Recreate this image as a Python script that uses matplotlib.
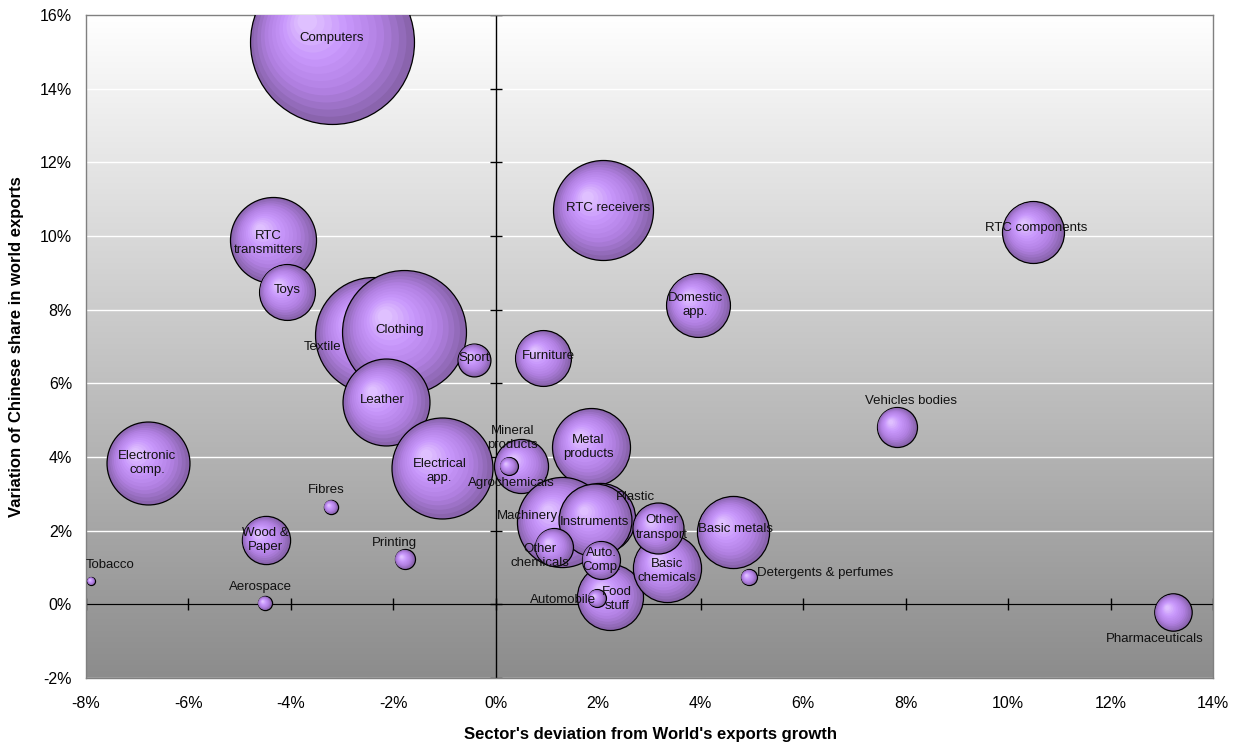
import numpy as np
import matplotlib
matplotlib.use("Agg")
import matplotlib.pyplot as plt
from matplotlib.colors import LinearSegmentedColormap
from matplotlib.transforms import offset_copy
from matplotlib.ticker import FuncFormatter

plt.rcParams['font.family'] = ['Liberation Sans', 'DejaVu Sans']

# sector data (x: deviation from world export growth, y: change in Chinese share, both in %)
sectors = ["Computers", "RTC\ntransmitters", "Toys", "RTC receivers", "Domestic\napp.",
           "RTC components", "Textile", "Clothing", "Sport", "Furniture", "Leather",
           "Electrical\napp.", "Electronic\ncomp.", "Wood &\nPaper", "Fibres", "Printing",
           "Tobacco", "Aerospace", "Mineral\nproducts", "Agrochemicals", "Metal\nproducts",
           "Machinery", "Plastic", "Instruments", "Other\nchemicals", "Food\nstuff",
           "Automobile", "Auto.\nComp.", "Basic\nchemicals", "Other\ntransport",
           "Basic metals", "Detergents & perfumes", "Vehicles bodies", "Pharmaceuticals"]
x_dev = [-3.20, -4.34, -4.08, 2.09, 3.95, 10.49, -2.40, -1.80, -0.42, 0.92, -2.15,
         -1.06, -6.79, -4.49, -3.22, -1.78, -7.90, -4.51, 0.50, 0.25, 1.86,
         1.29, 2.03, 1.94, 1.13, 2.23, 1.97, 2.05, 3.34, 3.17,
         4.63, 4.94, 7.83, 13.22]
y_share = [15.27, 9.89, 8.48, 10.71, 8.13, 10.11, 7.31, 7.39, 6.63, 6.68, 5.48,
           3.70, 3.83, 1.74, 2.64, 1.22, 0.63, 0.03, 3.75, 3.75, 4.27,
           2.23, 2.34, 2.28, 1.55, 0.19, 0.16, 1.20, 0.98, 2.06,
           1.96, 0.73, 4.81, -0.22]
weight = [67.2, 18.5, 7.8, 25.0, 10.2, 9.6, 33.6, 38.4, 2.7, 7.8, 18.9,
          25.5, 17.2, 5.8, 0.5, 1.0, 0.16, 0.5, 7.3, 0.8, 15.2,
          20.3, 12.3, 13.3, 3.6, 10.9, 0.8, 3.6, 11.6, 6.5,
          13.0, 0.64, 4.0, 3.5]

# label offsets from bubble centre, in pixels (right, down)
label_off = [(0, -4), (-5, 3), (0, -2), (5, -2), (-3, 0), (3, -4), (-50, 12), (-4, -2),
             (0, -2), (5, -2), (-3, -2), (-2, 3), (-1, 0), (0, 0), (-5, -17), (-10, -16),
             (19, -16), (-4, -16), (-9, -28), (3, 17), (-3, 0), (-34, -6), (36, -21),
             (-1, 2), (-14, 9), (7, 2), (-34, 2), (1, 0), (0, 3), (4, -1), (2, -3),
             (76, -4), (14, -26), (-18, 27)]

xticks = list(range(-8, 15, 2))
yticks = list(range(-2, 17, 2))

fig = plt.figure(figsize=(12.42, 7.49), dpi=100)
ax = fig.add_axes([86 / 1242, 71 / 749, 1127 / 1242, 663 / 749])

# grey gradient background, white at the top
grad = np.linspace(0, 1, 256).reshape(-1, 1)
bg = LinearSegmentedColormap.from_list("bg", ["#ffffff", "#8c8c8c"])
ax.imshow(grad, cmap=bg, extent=[-8, 14, -2, 16], origin='upper', aspect='auto', zorder=0)

for v in yticks:
    ax.axhline(v, color='white', lw=1, zorder=1)

ax.axhline(0, color='black', lw=1, zorder=2)
ax.axvline(0, color='black', lw=1, zorder=2)
ax.plot(xticks, [0] * len(xticks), ls='none', marker='|', ms=8.5, mew=1, color='black', zorder=2)
ax.plot([0] * len(yticks), yticks, ls='none', marker='_', ms=8.5, mew=1, color='black', zorder=2)

shade = LinearSegmentedColormap.from_list(
    "bub", [(0, "#8a64ad"), (0.3, "#b07fe0"), (0.65, "#c796fb"), (1, "#dfc0ff")])
n_layers = 14
for xi, yi, wi in zip(x_dev, y_share, weight):
    r_pt = 10 * np.sqrt(wi) * 0.72
    for k in range(n_layers):
        t = k / (n_layers - 1)
        rr = r_pt * (1 - 0.88 * t)
        tr = offset_copy(ax.transData, fig=fig, x=-0.3 * r_pt * t, y=0.25 * r_pt * t, units='points')
        ax.scatter([xi], [yi], s=(2 * rr) ** 2, color=shade(t),
                   edgecolors='black' if k == 0 else 'none',
                   linewidths=0.9 if k == 0 else 0, transform=tr, zorder=3)

for name, xi, yi, (dx, dy) in zip(sectors, x_dev, y_share, label_off):
    ax.annotate(name, (xi, yi), xytext=(dx * 0.72, -dy * 0.72), textcoords='offset points',
                ha='center', va='center', fontsize=9.5, color='#111111', zorder=5,
                linespacing=1.25)

ax.set_xlim(-8, 14)
ax.set_ylim(-2, 16)
ax.set_xticks(xticks)
ax.set_yticks(yticks)
pct = FuncFormatter(lambda v, p: f"{v:.0f}%")
ax.xaxis.set_major_formatter(pct)
ax.yaxis.set_major_formatter(pct)
ax.tick_params(axis='both', length=0, labelsize=11.5)
ax.tick_params(axis='x', pad=13)
ax.tick_params(axis='y', pad=10)
for s in ax.spines.values():
    s.set_color('#808080')
    s.set_linewidth(1)

fig.text(650 / 1242, 1 - 735 / 749, "Sector's deviation from World's exports growth",
         ha='center', va='center', fontsize=12, fontweight='bold')
fig.text(17 / 1242, 1 - 347 / 749, "Variation of Chinese share in world exports",
         ha='center', va='center', rotation=90, fontsize=12, fontweight='bold')

fig.savefig("out.png", dpi=100)
